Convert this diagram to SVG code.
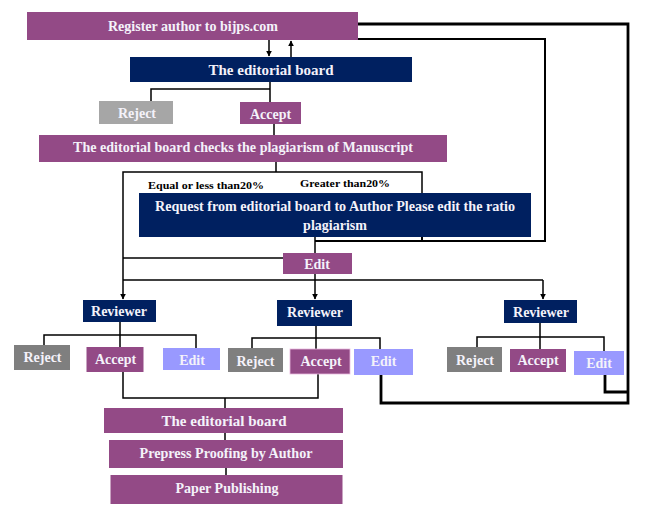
<svg xmlns="http://www.w3.org/2000/svg" width="668" height="517" viewBox="0 0 668 517">
<style>
.t{font-family:"Liberation Serif","Times New Roman",serif;font-weight:bold;font-size:14px;fill:#f4f2fa;text-anchor:middle;dominant-baseline:central}
.s{font-family:"Liberation Serif","Times New Roman",serif;font-weight:bold;font-size:11px;fill:#000}
.pu{fill:#934a86}
.nv{fill:#002060}
.g1{fill:#a6a6a6}
.g2{fill:#7f7f7f}
.lp{fill:#9999ff}
.c{fill:none;stroke:#000;stroke-width:1.5}
.k{fill:none;stroke:#000;stroke-width:2.8}
.m{fill:none;stroke:#000;stroke-width:2}
</style>
<defs>
<marker id="ah" viewBox="0 0 10 10" refX="9" refY="5" markerWidth="6" markerHeight="6" markerUnits="userSpaceOnUse" orient="auto"><path d="M0,0L10,5L0,10z" fill="#000"/></marker>
</defs>
<rect width="668" height="517" fill="#fff"/>
<g id="connectors">
<path class="c" d="M269,40V56" marker-end="url(#ah)"/>
<path class="c" d="M291,57V41" marker-end="url(#ah)"/>
<path class="c" d="M270,82V89H151V101M270,89V102"/>
<path class="c" d="M274,124V135"/>
<path class="c" d="M276,162V172H123V280M276,172H422V193"/>
<path class="c" d="M123,258H283"/>
<path class="c" d="M315,237V253"/>
<path class="m" d="M422,231V241M315,241H545V39H357"/>
<path class="k" d="M357,24H628V403H381V373M605,374V392H628"/>
<path class="c" d="M123,280H543"/>
<path class="c" d="M123,280V299" marker-end="url(#ah)"/>
<path class="c" d="M315,274V299" marker-end="url(#ah)"/>
<path class="c" d="M543,280V299" marker-end="url(#ah)"/>
<path class="c" d="M120,322V335M44,345V335H196V348M120,335V347"/>
<path class="c" d="M316,326V338M252,348V338H380V349M316,338V349"/>
<path class="c" d="M540,323V337M477,347V337H604V351M540,337V349"/>
<path class="c" d="M123,372V398H318V374M225,398V408"/>
<path class="c" d="M225,433V440M226,468V475"/>
</g>
<g id="register"><rect class="pu" x="27" y="12" width="331" height="28"/><text class="t" x="193" y="26" textLength="170" lengthAdjust="spacingAndGlyphs">Register author to bijps.com</text></g>
<g id="board1"><rect class="nv" x="130" y="57" width="282" height="25"/><text class="t" x="271" y="70" style="font-size:15px">The editorial board</text></g>
<g id="reject0"><rect class="g1" x="99" y="101" width="74" height="23"/><text class="t" x="137" y="113">Reject</text></g>
<g id="accept0"><rect class="pu" x="240" y="102" width="61" height="22"/><text class="t" x="270.5" y="114">Accept</text></g>
<g id="plagiarism"><rect class="pu" x="39" y="135" width="408" height="27"/><text class="t" x="243" y="147.5" textLength="340" lengthAdjust="spacingAndGlyphs">The editorial board checks the plagiarism of Manuscript</text></g>
<text class="s" x="148" y="189" textLength="116" lengthAdjust="spacingAndGlyphs">Equal or less than20%</text>
<text class="s" x="300" y="187" textLength="90" lengthAdjust="spacingAndGlyphs">Greater than20%</text>
<g id="request"><rect class="nv" x="139" y="193" width="392" height="44"/><text class="t" x="335" y="206.5" textLength="360" lengthAdjust="spacingAndGlyphs">Request from editorial board to Author Please edit the ratio</text><text class="t" x="335" y="225">plagiarism</text></g>
<g id="edit0"><rect class="pu" x="283" y="253" width="69" height="21"/><text class="t" x="317" y="264">Edit</text></g>
<g id="reviewer1"><rect class="nv" x="83" y="300" width="73" height="22"/><text class="t" x="119" y="311.5">Reviewer</text></g>
<g id="reviewer2"><rect class="nv" x="277" y="300" width="75" height="26"/><text class="t" x="315" y="312">Reviewer</text></g>
<g id="reviewer3"><rect class="nv" x="504" y="300" width="73" height="23"/><text class="t" x="541" y="312">Reviewer</text></g>
<g id="reject1"><rect class="g2" x="14" y="345" width="56" height="25"/><text class="t" x="42.5" y="357">Reject</text></g>
<g id="accept1"><rect class="pu" x="86.5" y="347" width="57" height="25"/><text class="t" x="115.5" y="359.5">Accept</text></g>
<g id="edit1"><rect class="lp" x="163" y="348" width="57" height="22"/><text class="t" x="192" y="360">Edit</text></g>
<g id="reject2"><rect class="g2" x="228" y="348" width="55" height="24"/><text class="t" x="255.5" y="361.5">Reject</text></g>
<g id="accept2"><rect class="pu" x="290" y="349" width="60" height="25" stroke="#e9b8df" stroke-width="0.8"/><text class="t" x="321" y="361">Accept</text></g>
<g id="edit2"><rect class="lp" x="354" y="349" width="59" height="26"/><text class="t" x="383.5" y="361.5">Edit</text></g>
<g id="reject3"><rect class="g2" x="447" y="347" width="55" height="25"/><text class="t" x="475" y="360.5">Reject</text></g>
<g id="accept3"><rect class="pu" x="510" y="349" width="56" height="23"/><text class="t" x="538" y="360.5">Accept</text></g>
<g id="edit3"><rect class="lp" x="574" y="351" width="50" height="24"/><text class="t" x="599" y="363">Edit</text></g>
<g id="board2"><rect class="pu" x="104" y="408" width="239" height="25"/><text class="t" x="224" y="420.5" style="font-size:15px">The editorial board</text></g>
<g id="prepress"><rect class="pu" x="109" y="440" width="234" height="28"/><text class="t" x="226" y="453.5" textLength="173" lengthAdjust="spacingAndGlyphs">Prepress Proofing by Author</text></g>
<g id="publishing"><rect class="pu" x="110.5" y="475" width="232" height="29"/><text class="t" x="227" y="488" textLength="103" lengthAdjust="spacingAndGlyphs">Paper Publishing</text></g>
</svg>
